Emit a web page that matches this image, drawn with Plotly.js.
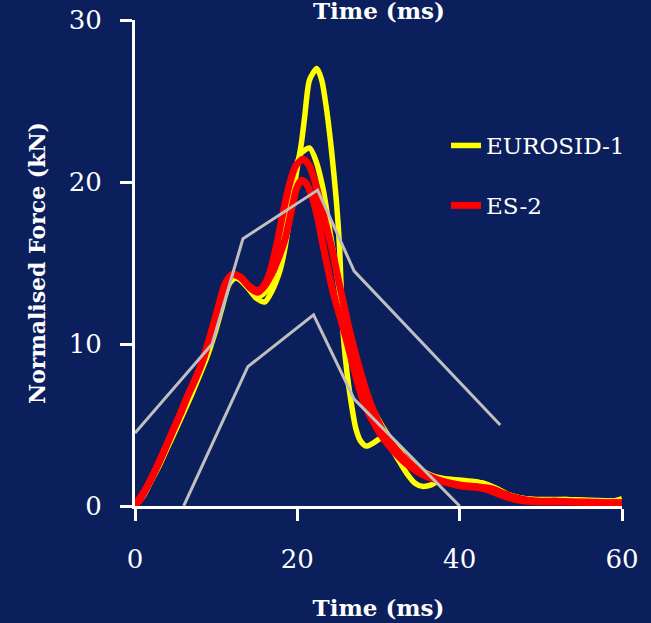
<!DOCTYPE html>
<html>
<head>
<meta charset="utf-8">
<script src="https://cdn.plot.ly/plotly-3.0.1.min.js"></script>
<style>html,body{margin:0;padding:0;background:#0b1f5c;}#chart{width:651px;height:623px;}</style>
</head>
<body>
<div id="chart"></div>
<script>
// EUROSID-1 test curves (time ms, normalised force kN)
var eurosid1_a_t = [0,1,2.5,4.7,6.4,8.3,9.4,10.4,11.2,11.9,12.8,14,15,16,16.8,17.9,18.5,19.3,19.9,20.5,20.9,21.5,22.4,23,23.6,24.2,24.8,25.2,25.6,26.1,26.6,27.2,27.8,28.5,29.4,30.4,31.5,32.5,33.5,34.5,35.5,36.5,37.6,39,41,43,44.5,46,47.5,49,51,53,55,57,59,60];
var eurosid1_a_v = [0.1,0.6,2.1,4.6,6.6,8.6,10.2,12.2,13.6,14.1,14.0,13.4,12.8,12.6,13.2,14.6,16,18.6,20.6,22.4,24,26.3,27,26.3,24.5,22,18.9,16,11,8.3,6.5,4.8,4.0,3.7,3.9,4.2,3.6,2.8,2.0,1.4,1.2,1.3,1.6,1.6,1.5,1.4,1.1,0.7,0.5,0.4,0.35,0.4,0.35,0.3,0.3,0.45];
var eurosid1_b_t = [0,0.7,1.8,2.9,4,5.2,6.1,7,7.9,8.8,9.8,10.7,11.6,12.4,13.4,14.5,15.5,16.3,17,18,19,19.8,20.5,21.5,22.3,23.2,24,24.8,25.6,26.5,27.5,28.5,29.5,30.5,32,33.5,35,36.5,38,40,42,43.5,45,46.5,48,50,53,56,60];
var eurosid1_b_v = [0.1,0.5,1.4,2.4,3.6,4.9,5.9,6.9,8,9.1,10.6,12.2,13.7,14.1,13.8,13.3,13.0,13.4,14.3,16.6,19.1,20.9,21.8,22.1,21.3,19.5,17,14.5,12,9.8,8,6.8,5.8,4.9,3.8,2.9,2.3,1.9,1.7,1.6,1.5,1.3,0.9,0.6,0.45,0.4,0.4,0.35,0.3];
// ES-2 test curves
var es2_a_t = [0,0.5,1.5,2.5,3.5,4.7,5.5,6.4,7.3,8.2,9.2,10.1,11.1,12,13,14,15.2,16,16.6,17.4,18.2,19,19.8,20.7,21.5,22.3,23.2,24.2,25.3,26.4,27.6,28.9,30.5,32,33.5,35,36.5,38,40,42,43.5,45,46.5,48,50,52,54,56,58,60];
var es2_a_v = [0.1,0.3,1.2,2.2,3.3,4.7,5.6,6.7,7.7,8.8,10.4,12,13.7,14.3,14.1,13.6,13.3,13.7,14.4,16,18,19.8,21,21.4,21,19.8,18,16,13.4,10.9,8.6,6.5,4.7,3.6,2.8,2.2,1.8,1.5,1.25,1.15,1.0,0.7,0.45,0.3,0.25,0.25,0.25,0.2,0.2,0.2];
var es2_b_t = [0,0.6,1.6,2.6,3.6,4.8,5.6,6.5,7.4,8.3,9.3,10.2,11.2,12.1,13.1,14.1,15.1,16,16.8,17.6,18.5,19.3,19.9,20.5,21.1,21.8,22.5,23.2,24.4,25.7,26.9,28.1,29.9,31.5,33,34.5,36,38,40,42,44,45.5,47,48.5,50,52,54,56,58,60];
var es2_b_v = [0.1,0.5,1.3,2.3,3.4,4.8,5.7,6.8,7.8,8.9,10.5,12.1,13.8,14.3,14.1,13.5,13.2,13.6,14.3,15.2,16.5,18.3,19.6,20.1,19.9,19.1,17.8,16,13.2,10.9,8.6,6.5,4.7,3.6,2.8,2.2,1.8,1.5,1.3,1.2,1.05,0.75,0.5,0.35,0.3,0.3,0.25,0.25,0.2,0.2];
// Corridor bounds
var corridor_upper_t = [0,9.5,13.3,22.5,27,45];
var corridor_upper_v = [4.5,10,16.5,19.5,14.5,5];
var corridor_lower_t = [6,13.9,22,27,40];
var corridor_lower_v = [0,8.6,11.8,6.6,0];
var xTicks = [0,20,40,60];
var yTicks = [0,10,20,30];

var YEL = '#ffff00', RED = '#ff0000', GRAY = '#bfbfbf', BG = '#0b1f5c';
var FONT = 'DejaVu Serif';

function curve(t, v, color, width, name, show, group) {
  return {x: t, y: v, type: 'scatter', mode: 'lines', name: name, showlegend: show,
    legendgroup: group, line: {color: color, width: width, shape: 'spline', smoothing: 0.7},
    hoverinfo: 'skip'};
}
var traces = [
  curve(eurosid1_b_t, eurosid1_b_v, YEL, 5.5, 'EUROSID-1', false, 'e1'),
  curve(eurosid1_a_t, eurosid1_a_v, YEL, 5.5, 'EUROSID-1', true, 'e1'),
  curve(es2_b_t, es2_b_v, RED, 7, 'ES-2', false, 'es2'),
  curve(es2_a_t, es2_a_v, RED, 7, 'ES-2', true, 'es2'),
  {x: corridor_upper_t, y: corridor_upper_v, type: 'scatter', mode: 'lines', showlegend: false,
    line: {color: GRAY, width: 3}, hoverinfo: 'skip'},
  {x: corridor_lower_t, y: corridor_lower_v, type: 'scatter', mode: 'lines', showlegend: false,
    line: {color: GRAY, width: 3}, hoverinfo: 'skip'}
];

var layout = {
  width: 651, height: 623,
  paper_bgcolor: BG, plot_bgcolor: BG,
  margin: {l: 135, r: 29, t: 20, b: 117},
  font: {family: FONT, color: '#ffffff', size: 22},
  showlegend: true,
  legend: {x: 0.6386, y: 0.786, xanchor: 'left', yanchor: 'top', bgcolor: 'rgba(0,0,0,0)',
    font: {family: FONT, size: 23, color: '#ffffff'}, tracegroupgap: 27, traceorder: 'grouped'},
  xaxis: {range: [0, 60], tickvals: xTicks, ticktext: xTicks.map(String), showgrid: false, zeroline: false,
    showline: true, linecolor: '#ffffff', linewidth: 3, ticks: 'outside', ticklen: 12, tickwidth: 3,
    tickcolor: '#ffffff', tickfont: {family: FONT, size: 26, color: '#ffffff'}, ticklabelstandoff: 16,
    title: {text: '<b>Time (ms)</b>', font: {family: FONT, size: 23, color: '#ffffff'}, standoff: 27},
    fixedrange: true},
  yaxis: {range: [0, 30], tickvals: yTicks, ticktext: yTicks.map(String), showgrid: false, zeroline: false,
    showline: true, linecolor: '#ffffff', linewidth: 3, ticks: 'outside', ticklen: 12, tickwidth: 3,
    tickcolor: '#ffffff', tickfont: {family: FONT, size: 26, color: '#ffffff'}, ticklabelstandoff: 13,
    title: {text: '<b>Normalised Force (kN)</b>', font: {family: FONT, size: 22, color: '#ffffff'}, standoff: 18},
    fixedrange: true},
  annotations: [{xref: 'paper', yref: 'paper', x: 0.5, y: 1, xanchor: 'center', yanchor: 'bottom',
    yshift: -6, showarrow: false, text: '<b>Time (ms)</b>', font: {family: FONT, size: 23, color: '#ffffff'}}]
};
Plotly.newPlot('chart', traces, layout, {displayModeBar: false, staticPlot: true});
</script>
</body>
</html>
